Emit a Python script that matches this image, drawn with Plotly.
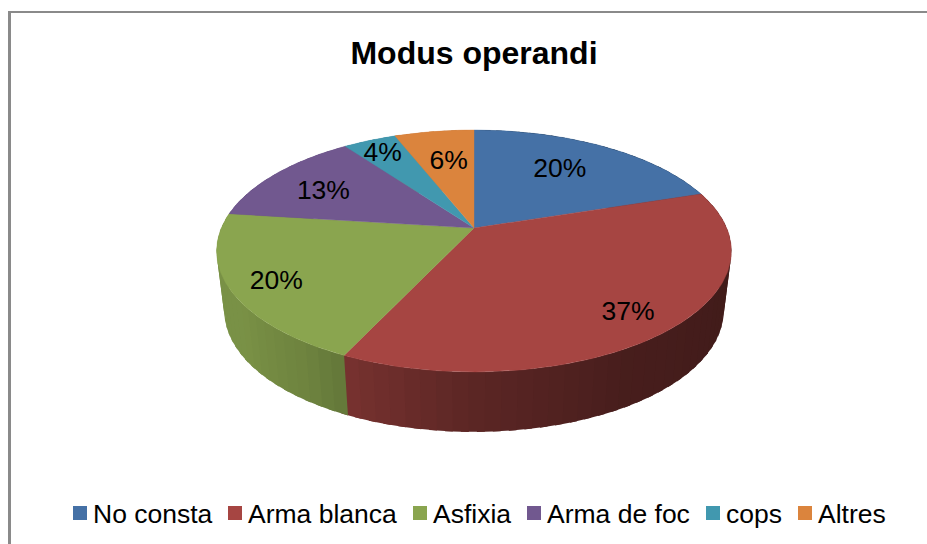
import numpy as np
import plotly.graph_objects as go

# ---- data ----
categories = ["No consta", "Arma blanca", "Asfixia", "Arma de foc", "cops", "Altres"]
values = [20, 37, 20, 13, 4, 6]

# ---- style ----
colors = ["#4571A6", "#A64542", "#8AA54F", "#71588F", "#4198AF", "#DB843D"]
FONT = "Liberation Sans"
label_nudge = [(-8, 2), (24, 17), (-32, 12), (-8, 3), (-15, -10), (4, 5)]
legend_x = [80, 235, 420, 534, 713, 805]
legend_y = 513
CX, CY, A, B, K = 474.0, 228.0, 252.7, 116.6, 0.19   # perspective of the pie disc
DEPTH, SHRINK = 60.0, 0.97                           # extrusion of the wall
WALL_T = [0, 72, 120, 150, 180, 205.2, 215, 235, 277, 360]
WALL_F = [0.40, 0.40, 0.40, 0.43, 0.55, 0.72, 0.80, 0.88, 0.88, 0.88]


def project(t_deg, r=1.0):
    t = np.radians(t_deg)
    x, y = r * np.sin(t), -r * np.cos(t)
    w = 1 - K * y
    return CX + A * x / w, CY + B * y / w


def shade(hex_color, f):
    rgb = [int(hex_color[i:i + 2], 16) for i in (1, 3, 5)]
    return "rgb(%d,%d,%d)" % tuple(round(c * f) for c in rgb)


total = sum(values)
edges = np.cumsum([0] + values) / total * 360.0
fig = go.Figure()

# outer wall, drawn first; each band runs on under the next so no seams show,
# and the disc hides everything behind it
for i, col in enumerate(colors):
    a0, a1 = edges[i], edges[i + 1]
    n = max(2, int((a1 - a0) / 3))
    steps = np.linspace(a0, a1, n + 1)
    for s0, s1 in zip(steps[:-1], steps[1:]):
        ts = np.linspace(s0, s1 + 1.5, 5)
        X, Y = project(ts)
        Xb = CX + SHRINK * (X - CX)
        Yb = Y + DEPTH
        c = shade(col, float(np.interp((s0 + s1) / 2, WALL_T, WALL_F)))
        fig.add_trace(go.Scatter(
            x=np.concatenate([X, Xb[::-1]]), y=np.concatenate([Y, Yb[::-1]]),
            mode="lines", fill="toself", fillcolor=c, line=dict(color=c, width=0),
            hoverinfo="skip", showlegend=False))

# top of each slice
for i, (name, col) in enumerate(zip(categories, colors)):
    ts = np.linspace(edges[i], edges[i + 1], 90)
    X, Y = project(ts)
    fig.add_trace(go.Scatter(
        x=np.concatenate([[CX], X, [CX]]), y=np.concatenate([[CY], Y, [CY]]),
        mode="lines", fill="toself", fillcolor=col, line=dict(color=col, width=0.4),
        name=name, showlegend=False, hoverinfo="name"))

# percentage labels
mids = (edges[:-1] + edges[1:]) / 2
lx, ly = project(mids, 0.7)
fig.add_trace(go.Scatter(
    x=lx + np.array([n[0] for n in label_nudge]),
    y=ly + np.array([n[1] for n in label_nudge]),
    mode="text", text=["%d%%" % round(v * 100 / total) for v in values],
    textposition="middle center",
    textfont=dict(family=FONT, size=26.5, color="black"),
    hoverinfo="skip", showlegend=False))

# legend
fig.add_trace(go.Scatter(
    x=legend_x, y=[legend_y] * len(categories), mode="markers",
    marker=dict(symbol="square", size=14, color=colors, line=dict(width=0)),
    hoverinfo="skip", showlegend=False))
for x, name in zip(legend_x, categories):
    fig.add_annotation(x=x + 11, y=legend_y + 1, text=name, showarrow=False,
                       xanchor="left", yanchor="middle", xref="x", yref="y",
                       font=dict(family=FONT, size=26.5, color="black"))

fig.update_layout(
    width=927, height=544, autosize=False,
    margin=dict(l=0, r=0, t=0, b=0, pad=0),
    paper_bgcolor="white", plot_bgcolor="white",
    xaxis=dict(range=[0, 927], visible=False, fixedrange=True),
    yaxis=dict(range=[544, 0], visible=False, fixedrange=True),
    title=dict(text="<b>Modus operandi</b>", x=474 / 927, xanchor="center",
               y=1 - 53 / 544, yanchor="middle",
               font=dict(family=FONT, size=32, color="black")),
    shapes=[
        dict(type="line", xref="x", yref="y", x0=9.5, x1=9.5, y0=11, y1=544,
             line=dict(color="#8A8A8A", width=3)),
        dict(type="line", xref="x", yref="y", x0=8, x1=927, y0=12, y1=12,
             line=dict(color="#8A8A8A", width=2)),
    ],
)
fig.write_html("out.html", post_script="document.body.style.margin='0';",
               config=dict(displayModeBar=False))
